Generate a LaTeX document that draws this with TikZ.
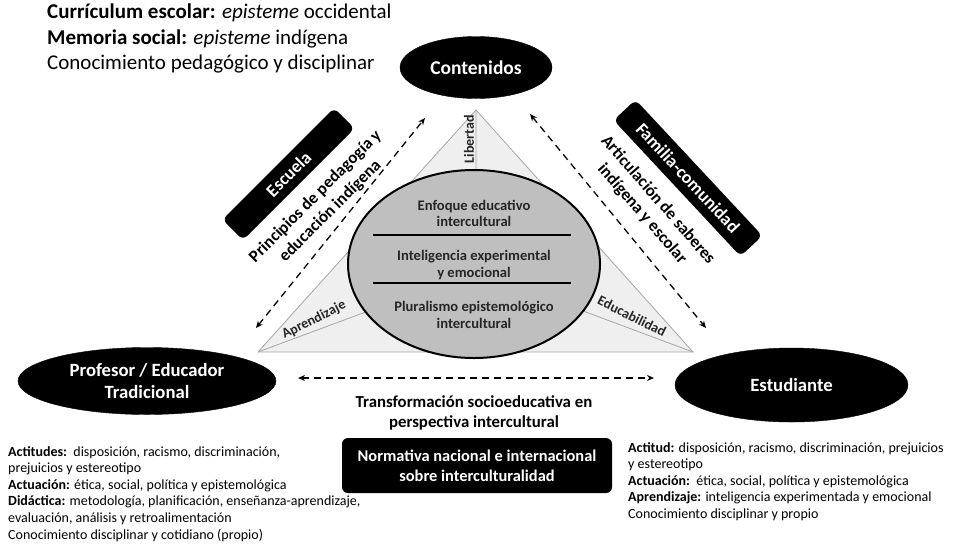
\documentclass[tikz,border=0pt]{standalone}
\usepackage{fontspec}
\setmainfont{Carlito}
\usetikzlibrary{shapes.geometric,arrows.meta}
\definecolor{trifill}{HTML}{EFEFEF}
\definecolor{triline}{HTML}{A6A6A6}
\definecolor{ellgray}{HTML}{BFBFBF}
\tikzset{
  blackell/.style={ellipse, fill=black, draw=black, text=white, font=\fontsize{18.7}{22}\selectfont\bfseries, align=center, inner sep=0pt},
  blackbox/.style={rounded corners=6pt, fill=black, text=white, font=\fontsize{18}{21}\selectfont\bfseries, align=center, inner sep=0pt},
  dasharrow/.style={dash pattern=on 7pt off 5pt, line width=1.3pt, {Stealth[length=7pt,width=6pt]}-{Stealth[length=7pt,width=6pt]}},
  innertext/.style={font=\fontsize{14.6}{16.8}\selectfont\bfseries, align=center, text=black!85},
  sidetext/.style={font=\fontsize{17}{21}\selectfont\bfseries, align=center},
  smalllab/.style={font=\fontsize{14}{16}\selectfont\bfseries, inner sep=1pt, text=black!85},
  bodytext/.style={font=\fontsize{14}{16.6}\selectfont, align=left, anchor=north west, inner sep=0pt},
}
\begin{document}
\begin{tikzpicture}[x=1pt,y=-1pt]
\useasboundingbox (0,0) rectangle (957,547);
% top-left text
\node[font=\fontsize{21}{25.5}\selectfont, align=left, anchor=north west, inner sep=0pt] (curr) at (47,4)
  {\textbf{Currículum escolar:} \textit{episteme} occidental\\
   \textbf{Memoria social:} \textit{episteme} indígena\\
   Conocimiento pedagógico y disciplinar};
% triangle
\coordinate (ta) at (476,110);
\coordinate (tl) at (258,352);
\coordinate (tr) at (693,352);
\coordinate (tc) at (476,271);
\fill[trifill] (ta) -- (tl) -- (tr) -- cycle;
\draw[triline, line width=0.8pt] (ta) -- (tl) -- (tr) -- cycle;
\draw[triline, line width=0.8pt] (ta) -- (tc) (tl) -- (tc) (tr) -- (tc);
% labels on triangle
\node[smalllab, rotate=90] (lib) at (469,139) {Libertad};
\node[smalllab, rotate=26.6] (apr) at (314,320) {Aprendizaje};
\node[smalllab, rotate=-26.6] (edu) at (632,316) {Educabilidad};
% central ellipse
\node[ellipse, fill=ellgray, draw=black, line width=2pt, minimum width=252pt, minimum height=188pt, inner sep=0pt] (core) at (474,264) {};
\draw[line width=2pt] (373,235) -- (571,235);
\draw[line width=2pt] (373,283) -- (571,283);
\node[innertext] (enf) at (474,213.5) {Enfoque educativo\\intercultural};
\node[innertext] (intel) at (474,265) {Inteligencia experimental\\y emocional};
\node[innertext] (plur) at (474,315) {Pluralismo epistemológico\\intercultural};
% black ellipses
\node[blackell, minimum width=152pt, minimum height=62pt, font=\fontsize{19.5}{22}\selectfont\bfseries] (cont) at (476,67.5) {Contenidos};
\node[blackell, minimum width=258pt, minimum height=67pt] (prof) at (147,381) {Profesor / Educador\\Tradicional};
\node[blackell, minimum width=233pt, minimum height=74pt] (est) at (791.5,385) {Estudiante};
% rotated boxes
\node[blackbox, rotate=45, minimum width=158pt, minimum height=29pt] (esc) at (288.5,174) {Escuela};
\node[sidetext, rotate=45] (prin) at (323,204) {Principios de pedagogía y\\educación indígena};
\node[blackbox, rotate=-47, minimum width=186pt, minimum height=30pt] (fam) at (688,178) {Familia-comunidad};
\node[sidetext, rotate=-49] (art) at (650,207) {Articulación de saberes\\indígena y escolar};
% dashed arrows
\coordinate (l1) at (256,328);
\coordinate (l2) at (425,118);
\coordinate (r1) at (530,114);
\coordinate (r2) at (706,328);
\coordinate (h1) at (298,378);
\coordinate (h2) at (654,378);
\draw[dasharrow] (l1) -- (l2);
\draw[dasharrow] (r1) -- (r2);
\draw[dasharrow] (h1) -- (h2);
% bottom middle
\node[font=\fontsize{16.8}{20}\selectfont\bfseries, align=center] (trans) at (474,413) {Transformación socioeducativa en\\perspectiva intercultural};
\node[blackbox, minimum width=270pt, minimum height=55pt, font=\fontsize{16.4}{20}\selectfont\bfseries] (norm) at (477,465.5) {Normativa nacional e internacional\\sobre interculturalidad};
% bottom texts
\node[bodytext] (ltext) at (8,446)
  {\textbf{Actitudes:}\ \ disposición, racismo, discriminación,\\
   prejuicios y estereotipo\\
   \textbf{Actuación:} ética, social, política y epistemológica\\
   \textbf{Didáctica:} metodología, planificación, enseñanza-aprendizaje,\\
   evaluación, análisis y retroalimentación\\
   Conocimiento disciplinar y cotidiano (propio)};
\node[bodytext] (rtext) at (628,442)
  {\textbf{Actitud:} disposición, racismo, discriminación, prejuicios\\
   y estereotipo\\
   \textbf{Actuación:}\ \ ética, social, política y epistemológica\\
   \textbf{Aprendizaje:} inteligencia experimentada y emocional\\
   Conocimiento disciplinar y propio};
\end{tikzpicture}
\end{document}
